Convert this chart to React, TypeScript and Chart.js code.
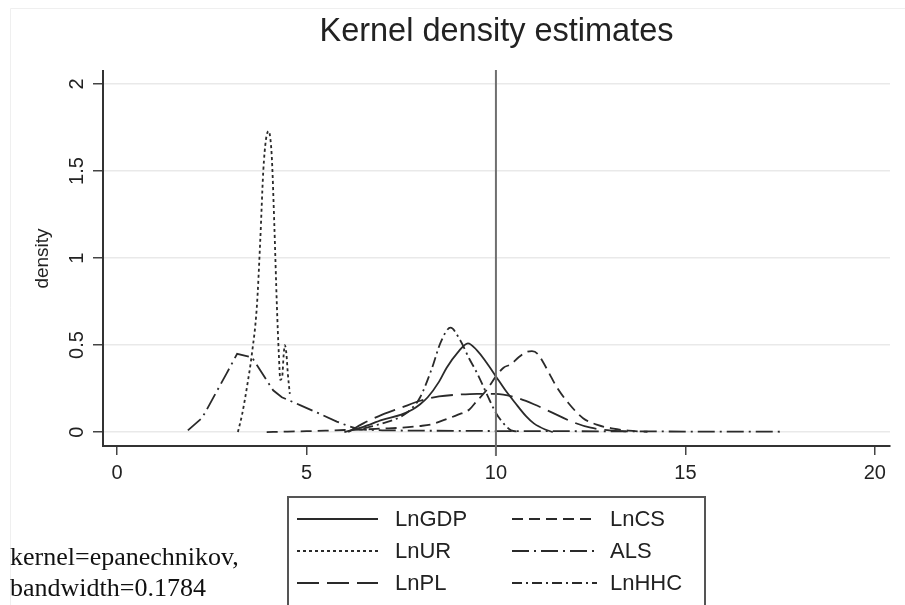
import { useEffect, useRef } from 'react';
import { Chart, registerables } from 'chart.js';
Chart.register(...registerables);

const chartTitle = 'Kernel density estimates';
const yAxisTitle = 'density';
const xTickValues = [0, 5, 10, 15, 20];
const yTickValues = [0, 0.5, 1, 1.5, 2];
const yTickLabels = ['0', '0.5', '1', '1.5', '2'];
const refLineX = 10;
const noteLines = ['kernel=epanechnikov,', 'bandwidth=0.1784'];

const seriesNames = ['LnGDP', 'LnCS', 'LnUR', 'ALS', 'LnPL', 'LnHHC'];

const lnGdpX = [6.0, 6.5, 7.0, 7.5, 7.8, 8.0, 8.2, 8.5, 8.7, 9.0, 9.26, 9.5, 9.75, 10.0, 10.25, 10.5, 10.8, 11.0, 11.3, 11.5];
const lnGdpY = [0, 0.03, 0.07, 0.1, 0.13, 0.16, 0.2, 0.29, 0.37, 0.46, 0.51, 0.47, 0.4, 0.32, 0.24, 0.17, 0.09, 0.05, 0.015, 0];

const lnCsX = [3.95, 4.5, 5.0, 5.5, 6.0, 6.5, 7.0, 7.5, 8.0, 8.3, 8.7, 9.0, 9.3, 9.5, 9.75, 10.0, 10.2, 10.4, 10.6, 10.8, 10.95, 11.1, 11.25, 11.4, 11.6, 11.9, 12.3, 12.7, 13.1, 13.5, 14.0];
const lnCsY = [0, 0.003, 0.005, 0.008, 0.012, 0.015, 0.02, 0.025, 0.035, 0.045, 0.075, 0.1, 0.13, 0.18, 0.24, 0.32, 0.37, 0.39, 0.43, 0.46, 0.465, 0.45, 0.4, 0.34, 0.26, 0.17, 0.08, 0.04, 0.02, 0.008, 0.002];

const lnUrX = [3.19, 3.3, 3.43, 3.56, 3.69, 3.78, 3.86, 3.93, 4.0, 4.05, 4.09, 4.15, 4.22, 4.27, 4.31, 4.36, 4.4, 4.43, 4.47, 4.51, 4.56];
const lnUrY = [0, 0.1, 0.26, 0.45, 0.72, 1.1, 1.5, 1.68, 1.73, 1.68, 1.56, 1.2, 0.72, 0.45, 0.3, 0.32, 0.45, 0.5, 0.45, 0.33, 0.22];

const alsX = [1.87, 2.24, 2.37, 2.9, 3.17, 3.56, 4.12, 4.35, 4.83, 5.3, 5.8, 6.1, 6.4, 7.0, 8.0, 9.0, 10.0, 11.0, 12.0, 13.0, 14.0, 15.0, 16.0, 17.5];
const alsY = [0.01, 0.08, 0.13, 0.34, 0.45, 0.43, 0.24, 0.2, 0.155, 0.11, 0.06, 0.035, 0.015, 0.01, 0.008, 0.007, 0.006, 0.005, 0.005, 0.004, 0.004, 0.003, 0.003, 0.002];

const lnPlX = [6.1, 6.5, 7.0, 7.5, 8.0, 8.5, 9.0, 9.5, 10.0, 10.5, 11.0, 11.5, 12.0, 12.5, 13.0, 13.5];
const lnPlY = [0, 0.05, 0.1, 0.14, 0.18, 0.205, 0.215, 0.22, 0.22, 0.2, 0.16, 0.11, 0.06, 0.025, 0.01, 0.003];

const lnHhcX = [6.5, 7.0, 7.5, 7.8, 8.0, 8.3, 8.55, 8.8, 9.05, 9.3, 9.5, 9.84, 10.0, 10.2, 10.4, 10.6];
const lnHhcY = [0.02, 0.05, 0.09, 0.14, 0.2, 0.36, 0.52, 0.6, 0.53, 0.42, 0.34, 0.18, 0.11, 0.05, 0.01, 0.003];

const seriesX = [lnGdpX, lnCsX, lnUrX, alsX, lnPlX, lnHhcX];
const seriesY = [lnGdpY, lnCsY, lnUrY, alsY, lnPlY, lnHhcY];
const seriesDash: number[][] = [[], [11, 6], [3, 3], [17, 5, 2, 5], [22, 8], [10, 4, 2, 4]];

const SANS = '"Liberation Sans", Arial, sans-serif';
const SERIF = '"Liberation Serif", "Times New Roman", serif';
const INK = '#222';
const LINE = '#2a2a2a';

export default function App() {
  const ref = useRef<HTMLCanvasElement>(null);

  useEffect(() => {
    const canvas = ref.current;
    if (!canvas) return;

    const decor = {
      id: 'decor',
      afterDatasetsDraw(chart: any) {
        const ctx = chart.ctx;
        const xs = chart.scales.x;
        const area = chart.chartArea;
        const px = xs.getPixelForValue(refLineX);
        ctx.save();
        ctx.strokeStyle = '#6f6f6f';
        ctx.lineWidth = 2;
        ctx.beginPath();
        ctx.moveTo(px, area.top - 1);
        ctx.lineTo(px, area.bottom + 10);
        ctx.stroke();
        ctx.restore();
      },
      afterDraw(chart: any) {
        const ctx = chart.ctx;
        const ys = chart.scales.y;
        const area = chart.chartArea;
        ctx.save();
        // faint outer frame
        ctx.strokeStyle = '#efefef';
        ctx.lineWidth = 1;
        ctx.beginPath();
        ctx.moveTo(10.5, 620);
        ctx.lineTo(10.5, 8.5);
        ctx.lineTo(920, 8.5);
        ctx.stroke();

        // title
        ctx.fillStyle = INK;
        ctx.font = `32.5px ${SANS}`;
        ctx.textAlign = 'center';
        ctx.textBaseline = 'alphabetic';
        ctx.fillText(chartTitle, (area.left + area.right) / 2, 41);

        // y tick labels (rotated)
        ctx.font = `20px ${SANS}`;
        yTickValues.forEach((v, i) => {
          const py = ys.getPixelForValue(v);
          ctx.save();
          ctx.translate(77, py);
          ctx.rotate(-Math.PI / 2);
          ctx.textAlign = 'center';
          ctx.textBaseline = 'middle';
          ctx.fillText(yTickLabels[i], 0, 0);
          ctx.restore();
        });

        // y axis title
        ctx.save();
        ctx.font = `19px ${SANS}`;
        ctx.translate(43, (area.top + area.bottom) / 2);
        ctx.rotate(-Math.PI / 2);
        ctx.textAlign = 'center';
        ctx.textBaseline = 'middle';
        ctx.fillText(yAxisTitle, 0, 0);
        ctx.restore();

        // legend
        const boxL = 288, boxT = 497, boxR = 705;
        ctx.strokeStyle = '#555';
        ctx.lineWidth = 2;
        ctx.strokeRect(boxL, boxT, boxR - boxL, 140);
        const rowsY = [519, 551, 583];
        const cols = [{ x0: 297, x1: 378, tx: 395 }, { x0: 512, x1: 597, tx: 610 }];
        ctx.font = `22px ${SANS}`;
        ctx.textAlign = 'left';
        ctx.textBaseline = 'middle';
        chart.data.datasets.forEach((ds: any, i: number) => {
          const c = cols[i % 2];
          const y = rowsY[Math.floor(i / 2)];
          ctx.save();
          ctx.strokeStyle = LINE;
          ctx.lineWidth = 1.8;
          ctx.setLineDash(ds.borderDash || []);
          ctx.beginPath();
          ctx.moveTo(c.x0, y);
          ctx.lineTo(c.x1, y);
          ctx.stroke();
          ctx.restore();
          ctx.fillStyle = INK;
          ctx.fillText(ds.label, c.tx, y + 1);
        });

        // note text
        ctx.font = `26px ${SERIF}`;
        ctx.fillStyle = '#111';
        ctx.textAlign = 'left';
        ctx.textBaseline = 'alphabetic';
        ctx.fillText(noteLines[0], 10, 565);
        ctx.fillText(noteLines[1], 10, 596);
        ctx.restore();
      },
    };

    const chart = new Chart(canvas, {
      type: 'line',
      data: {
        datasets: seriesNames.map((name, i) => ({
          label: name,
          data: seriesX[i].map((x, j) => ({ x, y: seriesY[i][j] })),
          borderColor: LINE,
          borderWidth: 1.8,
          borderDash: seriesDash[i],
          pointRadius: 0,
          fill: false,
          cubicInterpolationMode: i === 3 ? 'default' : 'monotone',
          tension: 0,
        })),
      },
      options: {
        animation: false,
        responsive: false,
        devicePixelRatio: 1,
        layout: { padding: { top: 71, right: 15, left: 0, bottom: 0 } },
        plugins: {
          legend: { display: false },
          title: { display: false },
          tooltip: { enabled: false },
        },
        scales: {
          x: {
            type: 'linear',
            min: -0.37,
            max: 20.4,
            afterBuildTicks: (s: any) => {
              s.ticks = xTickValues.map((v) => ({ value: v }));
            },
            afterFit: (s: any) => {
              s.height = 159;
            },
            border: { display: true, color: '#333', width: 2 },
            grid: { drawOnChartArea: false, drawTicks: true, tickLength: 9, tickColor: '#444', lineWidth: 1.5 },
            ticks: {
              color: INK,
              font: { family: SANS, size: 20 },
              padding: 6,
              maxRotation: 0,
              minRotation: 0,
              autoSkip: false,
              callback: (v: any) => String(v),
            },
          },
          y: {
            type: 'linear',
            min: -0.08,
            max: 2.075,
            afterBuildTicks: (s: any) => {
              s.ticks = yTickValues.map((v) => ({ value: v }));
            },
            afterFit: (s: any) => {
              s.width = 103;
            },
            border: { display: true, color: '#333', width: 2 },
            grid: { color: '#e9e9e9', lineWidth: 1.5, drawTicks: true, tickLength: 10, tickColor: '#444' },
            ticks: { display: false },
          },
        },
      },
      plugins: [decor],
    } as any);

    return () => chart.destroy();
  }, []);

  return (
    <div style={{ position: 'fixed', left: 0, top: 0, width: 905, height: 605, background: '#fff', overflow: 'hidden' }}>
      <canvas ref={ref} width={905} height={605} style={{ display: 'block', width: 905, height: 605 }} />
    </div>
  );
}
